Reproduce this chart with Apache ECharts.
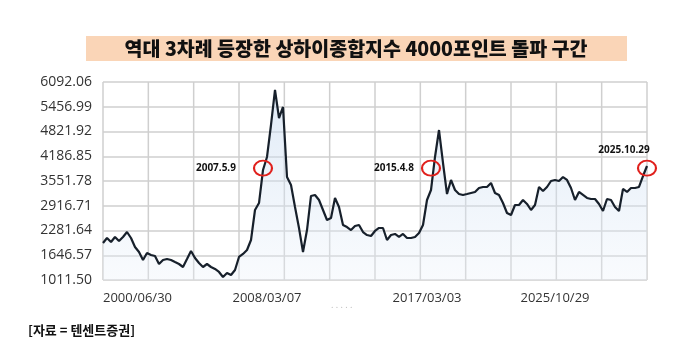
<!DOCTYPE html>
<html>
<head>
<meta charset="utf-8">
<script src="https://cdn.jsdelivr.net/npm/echarts@6/dist/echarts.min.js"></script>
<style>
  html, body { margin: 0; padding: 0; background: #fff; }
  #chart { width: 680px; height: 354px; }
</style>
</head>
<body>
<div id="chart"></div>
<script>
// 상하이종합지수 (weekly-ish samples)
const closes = [
  1961, 2089, 1987, 2115, 2012, 2115, 2243, 2089, 1858, 1730,
  1525, 1704, 1653, 1627, 1422, 1525, 1550, 1525, 1473, 1422,
  1345, 1550, 1756, 1576, 1448, 1345, 1422, 1345, 1294, 1217,
  1088, 1191, 1140, 1268, 1602, 1679, 1781, 2038, 2808, 2987,
  3834, 4168, 4989, 5887, 5168, 5451, 3654, 3449, 2885, 2346,
  1730, 2294, 3167, 3193, 3064, 2808, 2551, 2602, 3116, 2885,
  2423, 2371, 2294, 2397, 2423, 2243, 2166, 2140, 2269, 2346,
  2346, 2038, 2166, 2192, 2115, 2192, 2089, 2089, 2115, 2217,
  2423, 3064, 3321, 4168, 4860, 4014, 3218, 3578, 3321, 3218,
  3193, 3218, 3244, 3270, 3372, 3398, 3398, 3500, 3244, 3193,
  2987, 2731, 2679, 2936, 2936, 3064, 2962, 2808, 2936, 3398,
  3295, 3398, 3552, 3578, 3552, 3654, 3578, 3372, 3064, 3270,
  3193, 3116, 3090, 3090, 2962, 2782, 3090, 3064, 2885, 2782,
  3347, 3270, 3372, 3372, 3398, 3680, 3937
];
const lastIdx = closes.length - 1;

const yMin = 1011.5;
const yMax = 6092.06;
const yTicks = ['1011.50', '1646.57', '2281.64', '2916.71', '3551.78', '4186.85', '4821.92', '5456.99', '6092.06'];
const xTicks = ['2000/06/30', '2008/03/07', '2017/03/03', '2025/10/29'];
const xTickAt = [0, 41, 81, 113];
const gridCols = 12;

// 4000포인트 돌파 시점
const marks = ['2007.5.9', '2015.4.8', '2025.10.29'];
const markAt = [40, 82, 136];
const markLevel = 3880;

const gridColor = '#cfcfcf';

// x positions of the vertical grid lines
const colLines = [];
for (let k = 0; k <= gridCols; k++) {
  colLines.push([(k * lastIdx) / gridCols, yMin]);
}

const chart = echarts.init(document.getElementById('chart'));

const option = {
  backgroundColor: '#fff',
  animation: false,
  textStyle: { fontFamily: 'Noto Sans, sans-serif' },
  grid: { left: 103, right: 33, top: 82, bottom: 74 },
  graphic: [
    {
      type: 'rect',
      shape: { x: 86, y: 36, width: 541, height: 25 },
      style: { fill: '#fad5b7' }
    },
    {
      type: 'text',
      x: 356, y: 48.5,
      style: {
        text: '역대 3차례 등장한 상하이종합지수 4000포인트 돌파 구간',
        font: '900 19.5px "Noto Sans CJK KR"',
        fill: '#111',
        align: 'center',
        verticalAlign: 'middle'
      }
    },
    {
      type: 'text',
      x: 28, y: 330,
      style: {
        text: '[자료 = 텐센트증권]',
        font: '700 13px "Noto Sans CJK KR"',
        fill: '#111',
        verticalAlign: 'middle'
      }
    },
    {
      type: 'text',
      x: 331, y: 301,
      style: { text: '. . . . .', font: '9px "Noto Sans"', fill: '#bbb' }
    }
  ],
  xAxis: {
    type: 'value',
    min: 0,
    max: lastIdx,
    axisLine: { show: false },
    axisTick: { show: false },
    splitLine: { show: false },
    axisLabel: {
      customValues: xTickAt,
      formatter: (v) => xTicks[xTickAt.indexOf(v)],
      alignMinLabel: 'left',
      margin: 12,
      fontSize: 13,
      color: '#333',
      fontFamily: 'Open Sans'
    }
  },
  yAxis: {
    type: 'value',
    min: yMin,
    max: yMax,
    interval: 635.07,
    axisLine: { show: false },
    axisTick: { show: false },
    axisLabel: {
      formatter: (v, idx) => yTicks[idx],
      margin: 11,
      fontSize: 14,
      fontWeight: 500,
      color: '#333',
      fontFamily: 'Open Sans'
    },
    splitLine: { show: true, lineStyle: { color: gridColor, width: 1.5 } }
  },
  series: [
    {
      // vertical grid columns, drawn through the axes' own scales
      type: 'custom',
      silent: true,
      z: 1,
      data: colLines,
      renderItem: (params, api) => {
        const x = api.value(0);
        const top = api.coord([x, yMax]);
        const bottom = api.coord([x, yMin]);
        return {
          type: 'line',
          shape: { x1: top[0], y1: top[1], x2: bottom[0], y2: bottom[1] },
          style: { stroke: gridColor, lineWidth: 1.5 }
        };
      }
    },
    {
      type: 'line',
      data: closes.map((v, i) => [i, v]),
      showSymbol: false,
      z: 3,
      lineStyle: { color: '#17202b', width: 2.2 },
      areaStyle: {
        color: new echarts.graphic.LinearGradient(0, 0, 0, 1, [
          { offset: 0, color: 'rgba(190,212,238,0.7)' },
          { offset: 1, color: 'rgba(235,242,250,0.45)' }
        ])
      },
      markPoint: {
        symbol: 'circle',
        symbolSize: [18, 15],
        itemStyle: { color: 'rgba(0,0,0,0)', borderColor: '#e0201c', borderWidth: 2 },
        label: {
          show: true,
          formatter: (p) => p.name,
          color: '#111',
          fontSize: 10,
          fontWeight: 'bold',
          fontFamily: 'Noto Sans'
        },
        data: [
          { name: marks[0], coord: [markAt[0], markLevel], label: { position: 'left', distance: 17 } },
          { name: marks[1], coord: [markAt[1], markLevel], label: { position: 'left', distance: 7 } },
          { name: marks[2], coord: [markAt[2], markLevel], label: { position: 'top', distance: 5, offset: [-23, 0] } }
        ]
      }
    }
  ]
};

chart.setOption(option);
</script>
</body>
</html>
